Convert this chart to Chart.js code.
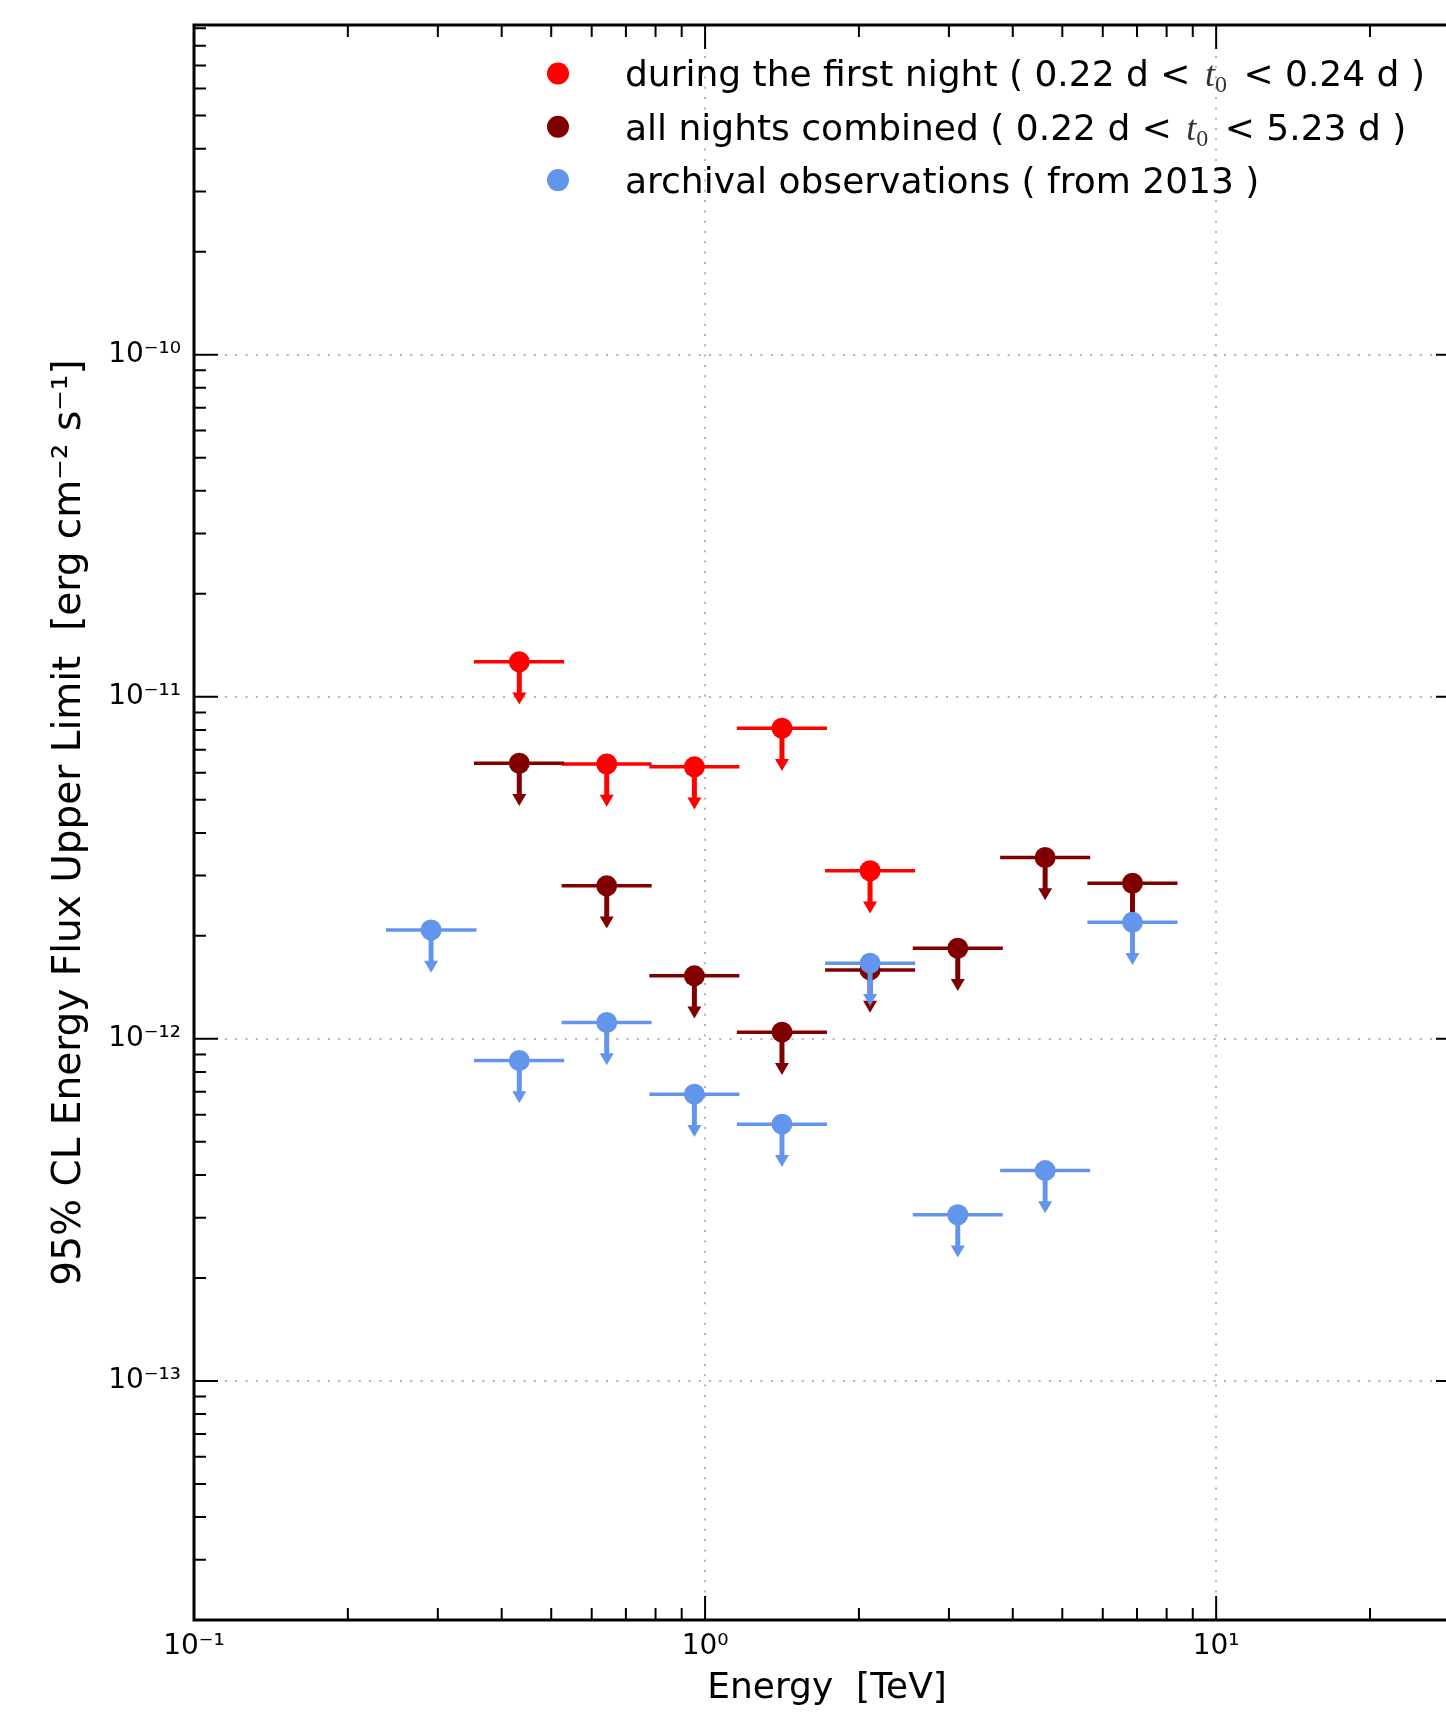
<!DOCTYPE html>
<html>
<head>
<meta charset="utf-8">
<script src="https://cdn.jsdelivr.net/npm/chart.js@4.4.1/dist/chart.umd.min.js"></script>
<style>
  html, body { margin: 0; padding: 0; background: #ffffff; overflow: hidden; width: 1446px; height: 1720px; }
  #wrap { position: absolute; left: 0; top: 0; width: 1480px; height: 1720px; }
  canvas { display: block; }
</style>
</head>
<body>
<div id="wrap"><canvas id="c" width="1480" height="1720" style="width:1480px;height:1720px"></canvas></div>
<script>
// ---------------- data ----------------
const energyCenters = [0.291, 0.433, 0.642, 0.953, 1.414, 2.103, 3.122, 4.628, 6.859];   // TeV
const energyLow     = [0.2375, 0.353, 0.524, 0.778, 1.154, 1.717, 2.549, 3.778, 5.599];
const energyHigh    = [0.357, 0.530, 0.786, 1.167, 1.732, 2.576, 3.824, 5.669, 8.402];

const firstNightUL  = [null, 1.265e-11, 6.36e-12, 6.24e-12, 8.09e-12, 3.10e-12, null, null, null];
const allNightsUL   = [null, 6.39e-12, 2.80e-12, 1.528e-12, 1.046e-12, 1.59e-12, 1.84e-12, 3.39e-12, 2.85e-12];
const archivalUL    = [2.08e-12, 8.64e-13, 1.116e-12, 6.89e-13, 5.63e-13, 1.664e-12, 3.06e-13, 4.12e-13, 2.19e-12];

const upperLimitArrowFraction = 0.25;   // arrow reaches 0.75 x the limit

const seriesLabels = [
  'during the first night ( 0.22 d < t₀ < 0.24 d )',
  'all nights combined ( 0.22 d < t₀ < 5.23 d )',
  'archival observations ( from 2013 )'
];

const xTickValues = [0.1, 1, 10];
const xTickLabels = ['10⁻¹', '10⁰', '10¹'];
const yTickValues = [1e-13, 1e-12, 1e-11, 1e-10];
const yTickLabels = ['10⁻¹³', '10⁻¹²', '10⁻¹¹', '10⁻¹⁰'];

const xRange = [0.1, 30];
const yRange = [2e-14, 9.2e-10];

const xTitle = 'Energy  [TeV]';
const yTitle = '95% CL Energy Flux Upper Limit  [erg cm⁻² s⁻¹]';

// ---------------- build datasets ----------------
function toPoints(values) {
  const pts = [];
  values.forEach((v, i) => {
    if (v !== null) pts.push({ x: energyCenters[i], y: v, xMin: energyLow[i], xMax: energyHigh[i] });
  });
  return pts;
}

function seriesDataset(label, values, color, order) {
  return {
    label: label,
    data: toPoints(values),
    backgroundColor: color,
    borderColor: color,
    pointRadius: 10.5,
    pointHoverRadius: 10.5,
    pointBorderWidth: 0,
    showLine: false,
    order: order
  };
}

// ---------------- plugins ----------------
const errorBarPlugin = {
  id: 'errorBars',
  beforeDatasetDraw(chart, args) {
    const ds = chart.data.datasets[args.index];
    const xs = chart.scales.x, ys = chart.scales.y, ctx = chart.ctx;
    ctx.save();
    ctx.strokeStyle = ds.borderColor;
    ctx.fillStyle = ds.borderColor;
    ctx.lineCap = 'butt';
    ds.data.forEach(p => {
      const px = xs.getPixelForValue(p.x);
      const py = ys.getPixelForValue(p.y);
      const x0 = xs.getPixelForValue(p.xMin);
      const x1 = xs.getPixelForValue(p.xMax);
      const tip = ys.getPixelForValue(p.y * (1 - upperLimitArrowFraction));
      // horizontal bin bar
      ctx.lineWidth = 3.5;
      ctx.beginPath(); ctx.moveTo(x0, py); ctx.lineTo(x1, py); ctx.stroke();
      // arrow shaft
      ctx.lineWidth = 5;
      ctx.beginPath(); ctx.moveTo(px, py); ctx.lineTo(px, tip - 9); ctx.stroke();
      // arrow head
      ctx.beginPath();
      ctx.moveTo(px - 7, tip - 12);
      ctx.lineTo(px + 7, tip - 12);
      ctx.lineTo(px, tip);
      ctx.closePath();
      ctx.fill();
    });
    ctx.restore();
  }
};

function logTickValues(lo, hi) {
  const out = [];
  for (let d = Math.floor(Math.log10(lo)) ; d <= Math.ceil(Math.log10(hi)); d++) {
    for (let m = 1; m <= 9; m++) {
      const v = m * Math.pow(10, d);
      if (v >= lo * 0.999999 && v <= hi * 1.000001) out.push({ v: v, major: m === 1 });
    }
  }
  return out;
}

const framePlugin = {
  id: 'frameTicks',
  afterDatasetsDraw(chart) {
    const { ctx, chartArea: a, scales: { x, y } } = chart;
    ctx.save();
    ctx.strokeStyle = '#000000';
    ctx.lineWidth = 2;
    ctx.beginPath();
    logTickValues(xRange[0], xRange[1]).forEach(t => {
      const px = x.getPixelForValue(t.v);
      const len = t.major ? 24 : 12;
      ctx.moveTo(px, a.bottom); ctx.lineTo(px, a.bottom - len);
      ctx.moveTo(px, a.top);    ctx.lineTo(px, a.top + len);
    });
    logTickValues(yRange[0], yRange[1]).forEach(t => {
      const py = y.getPixelForValue(t.v);
      const len = t.major ? 24 : 12;
      ctx.moveTo(a.left, py);  ctx.lineTo(a.left + len, py);
      ctx.moveTo(a.right, py); ctx.lineTo(a.right - len, py);
    });
    ctx.stroke();
    ctx.lineWidth = 3;
    ctx.strokeRect(a.left, a.top, a.right - a.left, a.bottom - a.top);
    ctx.restore();
  }
};

const legendPlugin = {
  id: 'insideLegend',
  afterDraw(chart) {
    const { ctx, chartArea: a } = chart;
    const sans = '36px "DejaVu Sans"';
    ctx.save();
    chart.data.datasets.forEach((ds, i) => {
      const cy = a.top + 48.5 + i * 53.3;
      const mx = a.left + 364;
      ctx.fillStyle = ds.backgroundColor;
      ctx.beginPath(); ctx.arc(mx, cy, 11, 0, Math.PI * 2); ctx.fill();
      // text, with t₀ drawn as italic serif t and subscript 0
      ctx.fillStyle = '#000000';
      ctx.textBaseline = 'alphabetic';
      ctx.textAlign = 'left';
      let tx = a.left + 431;
      const base = cy + 12.7;
      const parts = ds.label.split('t₀');
      parts.forEach((part, k) => {
        ctx.font = sans;
        ctx.fillText(part, tx, base);
        tx += ctx.measureText(part).width;
        if (k < parts.length - 1) {
          tx += 3;
          ctx.font = 'italic 36px "Liberation Serif", "DejaVu Serif", serif';
          ctx.fillStyle = '#333333';
          ctx.fillText('t', tx, base);
          tx += ctx.measureText('t').width;
          ctx.font = '24px "Liberation Serif", "DejaVu Serif", serif';
          ctx.fillText('0', tx, base + 6);
          tx += ctx.measureText('0').width + 5;
          ctx.fillStyle = '#000000';
        }
      });
    });
    ctx.restore();
  }
};

// ---------------- chart ----------------
const gridStyle = { color: '#b4b4b4', lineWidth: 2, drawTicks: false };

new Chart(document.getElementById('c'), {
  type: 'scatter',
  data: {
    datasets: [
      seriesDataset(seriesLabels[0], firstNightUL, '#ff0000', 3),
      seriesDataset(seriesLabels[1], allNightsUL, '#800000', 2),
      seriesDataset(seriesLabels[2], archivalUL, '#6495ed', 1)
    ]
  },
  options: {
    responsive: false,
    devicePixelRatio: 1,
    animation: false,
    events: [],
    layout: { padding: { left: 0, right: 20, top: 25, bottom: 0 } },
    plugins: {
      legend: { display: false },
      tooltip: { enabled: false }
    },
    scales: {
      x: {
        type: 'logarithmic',
        position: 'bottom',
        min: xRange[0],
        max: xRange[1],
        grid: gridStyle,
        border: { display: false, dash: [2, 8.3] },
        afterBuildTicks: (scale) => { scale.ticks = xTickValues.map(v => ({ value: v, major: true })); },
        afterFit: (scale) => { scale.height = 100; scale.paddingLeft = 0; scale.paddingRight = 0; },
        ticks: {
          autoSkip: false,
          maxRotation: 0,
          padding: 9.5,
          color: '#000000',
          font: { family: 'DejaVu Sans', size: 28 },
          callback: (value) => {
            const i = xTickValues.findIndex(v => Math.abs(v - value) / v < 1e-6);
            return i >= 0 ? xTickLabels[i] : '';
          }
        },
        title: {
          display: true,
          text: xTitle,
          color: '#000000',
          font: { family: 'DejaVu Sans', size: 36 },
          padding: { top: 0, bottom: 10 }
        }
      },
      y: {
        type: 'logarithmic',
        position: 'left',
        min: yRange[0],
        max: yRange[1],
        grid: gridStyle,
        border: { display: false, dash: [2, 8.3] },
        afterBuildTicks: (scale) => { scale.ticks = yTickValues.map(v => ({ value: v, major: true })); },
        afterFit: (scale) => { scale.width = 194; scale.paddingTop = 0; scale.paddingBottom = 0; },
        ticks: {
          autoSkip: false,
          padding: 13,
          color: '#000000',
          font: { family: 'DejaVu Sans', size: 28 },
          callback: (value) => {
            const i = yTickValues.findIndex(v => Math.abs(v - value) / v < 1e-6);
            return i >= 0 ? yTickLabels[i] : '';
          }
        },
        title: {
          display: true,
          text: yTitle,
          color: '#000000',
          font: { family: 'DejaVu Sans', size: 39 },
          padding: { top: 46, bottom: 0 }
        }
      }
    }
  },
  plugins: [errorBarPlugin, framePlugin, legendPlugin]
});
</script>
</body>
</html>
